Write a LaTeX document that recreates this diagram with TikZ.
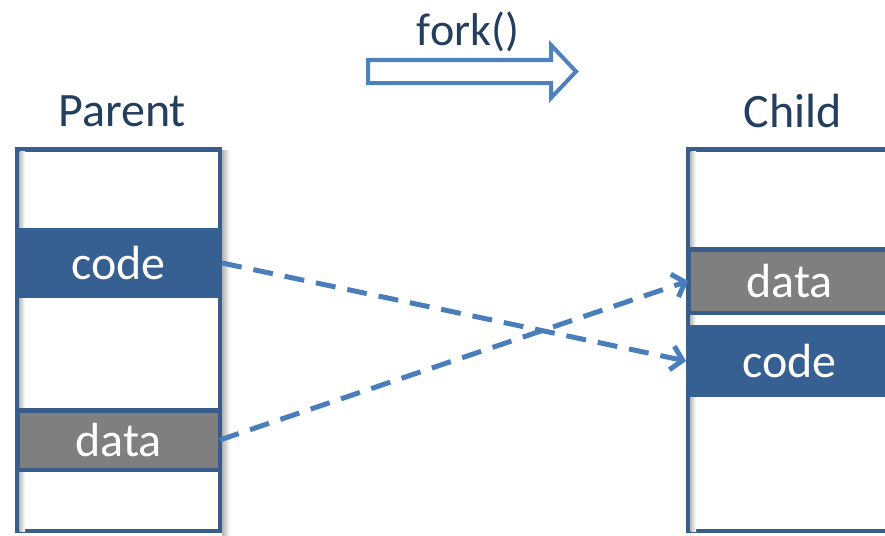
\documentclass[tikz,border=0pt]{standalone}
\usepackage{fontspec}
\setmainfont{Carlito}
\usetikzlibrary{arrows.meta}
\definecolor{bordblue}{RGB}{56,93,138}
\definecolor{codeblue}{RGB}{55,96,146}
\definecolor{greyfill}{RGB}{127,127,127}
\definecolor{dashblue}{RGB}{74,126,187}
\definecolor{forkblue}{RGB}{79,129,189}
\definecolor{labtext}{RGB}{36,62,96}
\tikzset{
  membox/.style={draw=bordblue, line width=4.5pt, fill=white, inner sep=0pt, outer sep=0pt},
  codeband/.style={fill=codeblue, draw=none, inner sep=0pt, outer sep=0pt, minimum width=207pt, minimum height=70pt, text=white, font=\fontsize{48}{52}\selectfont},
  databand/.style={fill=greyfill, draw=bordblue, line width=4.5pt, inner sep=0pt, outer sep=0pt, minimum width=202.5pt, text=white, font=\fontsize{48}{52}\selectfont},
  title/.style={text=labtext, font=\fontsize{48}{52}\selectfont, inner sep=0pt},
  copyarrow/.style={draw=dashblue, line width=5pt, dash pattern=on 20pt off 12pt, -{Straight Barb[length=11pt,width=24pt]}},
}
\begin{document}
\begin{tikzpicture}[x=1pt,y=-1pt]
\useasboundingbox (0,0) rectangle (885,535);
\clip (0,0) rectangle (885,535);
\fill[white] (0,0) rectangle (885,535);
% shadows
\shade[left color=black!30, right color=white] (222,150) rectangle (230,535);
% parent
\node[membox, minimum width=202.5pt, minimum height=381.5pt] (parent) at (118.5,340) {};
\shade[left color=black!25, right color=white] (19.5,151.5) rectangle (25,531);
\node[codeband] (pcode) at (118.5,263) {code};
\node[databand, minimum height=59.5pt] (pdata) at (118.5,440) {data};
% child
\node[membox, minimum width=202.5pt, minimum height=381.5pt] (child) at (789.5,340) {};
\shade[left color=black!25, right color=white] (690.5,151.5) rectangle (696,531);
\node[databand, minimum height=63.5pt] (cdata) at (789.5,281) {data};
\node[codeband, minimum height=72pt] (ccode) at (789.5,361) {code};
% titles
\node[title] (ptitle) at (122,111) {Parent};
\node[title] (ctitle) at (793,111) {Child};
\node[title, font=\fontsize{46}{50}\selectfont] (forktxt) at (468,32) {fork()};
% fork arrow
\draw[forkblue, line width=4pt, fill=white, line join=miter]
  (368,60) -- (551,60) -- (551,45) -- (576,71.5) -- (551,98) -- (551,83) -- (368,83) -- cycle;
% copy arrows
\draw[copyarrow] (pcode.east) -- (ccode.west);
\draw[copyarrow] (pdata.east) -- (cdata.west);
\end{tikzpicture}
\end{document}
